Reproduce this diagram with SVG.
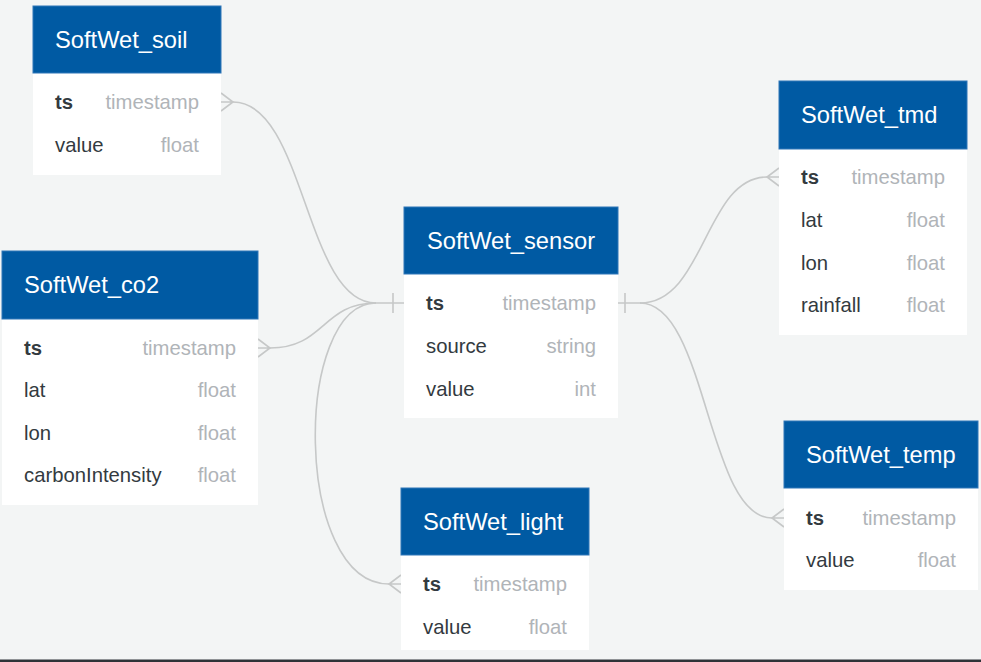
<svg xmlns="http://www.w3.org/2000/svg" width="981" height="662" viewBox="0 0 981 662">
<style>
.hdr{fill:#005aa3;stroke:#2f76b8;stroke-width:1}
.body{fill:#ffffff}
.title{font-family:"Liberation Sans",Arial,sans-serif;font-size:23.7px;fill:#ffffff}
.fname{font-family:"Liberation Sans",Arial,sans-serif;font-size:20.3px;fill:#333a40}
.pk{font-weight:bold}
.ftype{font-family:"Liberation Sans",Arial,sans-serif;font-size:20.3px;fill:#b0b4b8;text-anchor:end}
.conn{fill:none;stroke:#c6c8c8;stroke-width:1.6}
</style>
<rect x="0" y="0" width="981" height="662" fill="#f3f5f5"/>
<rect x="0" y="659.5" width="981" height="2.5" fill="#2e3338"/>
<g id="connectors">
<path class="conn" d="M233,102 C305,102 305,303 376,303"/>
<path class="conn" d="M270,348 C325,348 322,303 376,303"/>
<path class="conn" d="M376,303 C293,303 293,584 389,584"/>
<path class="conn" d="M375,303 L404,303 M393,293 L393,313"/>
<path class="conn" d="M618,303 L641,303 M625,293 L625,313"/>
<path class="conn" d="M640,303 C705,303 705,177 767,177"/>
<path class="conn" d="M640,303 C707,303 707,518 772,518"/>
<path class="conn" d="M221,93 L233,102 L221,111 M221,102 L233,102"/>
<path class="conn" d="M258,339 L270,348 L258,357 M258,348 L270,348"/>
<path class="conn" d="M401,575 L389,584 L401,593 M401,584 L389,584"/>
<path class="conn" d="M779,168 L767,177 L779,186 M779,177 L767,177"/>
<path class="conn" d="M784,509 L772,518 L784,527 M784,518 L772,518"/>
</g>
<g id="SoftWet_soil">
<rect class="body" x="33" y="73" width="188" height="102"/>
<rect class="hdr" x="33" y="6" width="188" height="67"/>
<text class="title" x="55" y="48">SoftWet_soil</text>
<text class="fname pk" x="55" y="109">ts</text><text class="ftype" x="199" y="109">timestamp</text>
<text class="fname" x="55" y="152">value</text><text class="ftype" x="199" y="152">float</text>
</g>
<g id="SoftWet_co2">
<rect class="body" x="2" y="319" width="256" height="186"/>
<rect class="hdr" x="2" y="251" width="256" height="68"/>
<text class="title" x="24" y="293">SoftWet_co2</text>
<text class="fname pk" x="24" y="355">ts</text><text class="ftype" x="236" y="355">timestamp</text>
<text class="fname" x="24" y="397">lat</text><text class="ftype" x="236" y="397">float</text>
<text class="fname" x="24" y="440">lon</text><text class="ftype" x="236" y="440">float</text>
<text class="fname" x="24" y="482">carbonIntensity</text><text class="ftype" x="236" y="482">float</text>
</g>
<g id="SoftWet_sensor">
<rect class="body" x="404" y="274" width="214" height="144"/>
<rect class="hdr" x="404" y="207" width="214" height="67"/>
<text class="title" x="427" y="249">SoftWet_sensor</text>
<text class="fname pk" x="426" y="310">ts</text><text class="ftype" x="596" y="310">timestamp</text>
<text class="fname" x="426" y="353">source</text><text class="ftype" x="596" y="353">string</text>
<text class="fname" x="426" y="396">value</text><text class="ftype" x="596" y="396">int</text>
</g>
<g id="SoftWet_tmd">
<rect class="body" x="779" y="149" width="188" height="186"/>
<rect class="hdr" x="779" y="81" width="188" height="68"/>
<text class="title" x="801" y="123">SoftWet_tmd</text>
<text class="fname pk" x="801" y="184">ts</text><text class="ftype" x="945" y="184">timestamp</text>
<text class="fname" x="801" y="227">lat</text><text class="ftype" x="945" y="227">float</text>
<text class="fname" x="801" y="270">lon</text><text class="ftype" x="945" y="270">float</text>
<text class="fname" x="801" y="312">rainfall</text><text class="ftype" x="945" y="312">float</text>
</g>
<g id="SoftWet_temp">
<rect class="body" x="784" y="488" width="194" height="102"/>
<rect class="hdr" x="784" y="421" width="194" height="67"/>
<text class="title" x="806" y="463">SoftWet_temp</text>
<text class="fname pk" x="806" y="525">ts</text><text class="ftype" x="956" y="525">timestamp</text>
<text class="fname" x="806" y="567">value</text><text class="ftype" x="956" y="567">float</text>
</g>
<g id="SoftWet_light">
<rect class="body" x="401" y="555" width="188" height="95"/>
<rect class="hdr" x="401" y="488" width="188" height="67"/>
<text class="title" x="423" y="530">SoftWet_light</text>
<text class="fname pk" x="423" y="591">ts</text><text class="ftype" x="567" y="591">timestamp</text>
<text class="fname" x="423" y="634">value</text><text class="ftype" x="567" y="634">float</text>
</g>
</svg>
